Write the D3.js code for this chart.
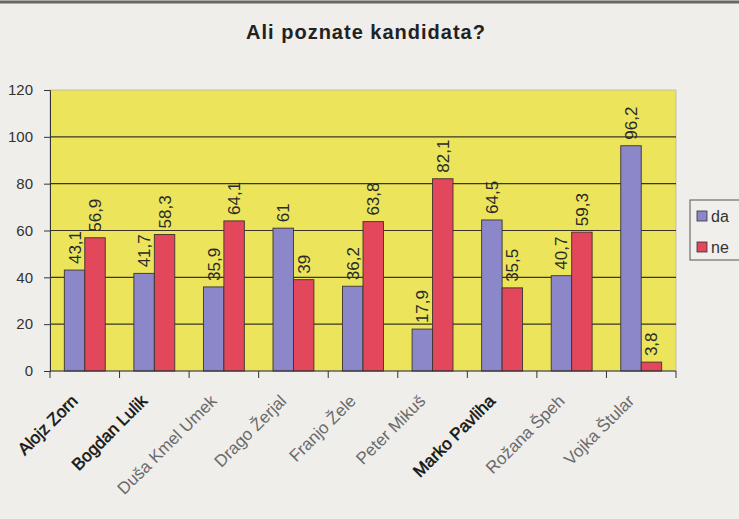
<!DOCTYPE html>
<html>
<head>
<meta charset="utf-8">
<script src="https://cdn.jsdelivr.net/npm/d3@7"></script>
<style>
  body { margin: 0; background: #efeeeb; }
  svg { display: block; font-family: "Liberation Sans", Arial, sans-serif; }
</style>
</head>
<body>
<div id="chart"></div>
<script>
var candidates = ['Alojz Zorn', 'Bogdan Lulik', 'Duša Kmel Umek', 'Drago Žerjal', 'Franjo Žele',
    'Peter Mikuš', 'Marko Pavliha', 'Rožana Špeh', 'Vojka Štular'];
var darkNames = ['Alojz Zorn', 'Bogdan Lulik', 'Marko Pavliha'];
var daValues = [43.1, 41.7, 35.9, 61, 36.2, 17.9, 64.5, 40.7, 96.2];
var neValues = [56.9, 58.3, 64.1, 39, 63.8, 82.1, 35.5, 59.3, 3.8];
var seriesNames = ['da', 'ne'];
var yTicks = [0, 20, 40, 60, 80, 100, 120];

var width = 739, height = 519;
var plotLeft = 50, plotRight = 676, plotTop = 90, plotBottom = 371;
var colors = {da: '#8c87c9', ne: '#e2475c'};

var svg = d3.select('#chart')
    .append('svg')
    .attr('width', width)
    .attr('height', height);

// rob skenirane strani
svg.append('line')
    .attr('x1', 0).attr('x2', width)
    .attr('y1', 2).attr('y2', 2)
    .attr('stroke', '#6b6660').attr('stroke-width', 3);

svg.append('text')
    .attr('x', 366).attr('y', 39)
    .attr('text-anchor', 'middle')
    .attr('font-size', 20).attr('font-weight', 'bold')
    .attr('letter-spacing', 1)
    .attr('fill', '#222')
    .text('Ali poznate kandidata?');

var xscale = d3.scaleBand()
    .domain(candidates)
    .range([plotLeft, plotRight]);

var inner = d3.scaleBand()
    .domain(seriesNames)
    .range([0, xscale.bandwidth()])
    .paddingInner(0)
    .paddingOuter(0.7);

var yscale = d3.scaleLinear()
    .domain([0, 120])
    .range([plotBottom, plotTop]);

// ozadje grafa
svg.append('rect')
    .attr('x', plotLeft).attr('y', plotTop)
    .attr('width', plotRight - plotLeft).attr('height', plotBottom - plotTop)
    .attr('fill', '#ece55c')
    .attr('stroke', '#b9b4a8').attr('stroke-width', 0.8);

// mreza
svg.selectAll('.grid')
    .data(yTicks.filter(function(d) { return d > 0 && d < 120; }))
    .enter()
    .append('line')
    .attr('x1', plotLeft).attr('x2', plotRight)
    .attr('y1', d => yscale(d)).attr('y2', d => yscale(d))
    .attr('stroke', '#3a3528').attr('stroke-width', 1.1);

var data = [];
candidates.forEach(function(c, i) {
    data.push({name: c, series: 'da', value: daValues[i]});
    data.push({name: c, series: 'ne', value: neValues[i]});
});

svg.selectAll('.bar')
    .data(data)
    .enter()
    .append('rect')
    .attr('x', d => xscale(d.name) + inner(d.series))
    .attr('y', d => yscale(d.value))
    .attr('width', inner.bandwidth())
    .attr('height', d => plotBottom - yscale(d.value))
    .attr('fill', d => colors[d.series])
    .attr('stroke', '#3a3430').attr('stroke-width', 0.9);

// oznake vrednosti
svg.selectAll('.lbl')
    .data(data)
    .enter()
    .append('text')
    .attr('transform', function(d) {
        var x = xscale(d.name) + inner(d.series) + inner.bandwidth() / 2;
        return 'translate(' + x + ',' + (yscale(d.value) - 6) + ') rotate(-90)';
    })
    .attr('dy', '0.35em')
    .attr('font-size', 17)
    .attr('fill', '#2a2a2a')
    .text(d => String(d.value).replace('.', ','));

// os y
var yaxis = d3.axisLeft(yscale).tickValues(yTicks).tickSize(6).tickPadding(11);
var gy = svg.append('g')
    .attr('transform', 'translate(' + plotLeft + ',0)')
    .call(yaxis);
gy.select('.domain').attr('stroke', '#333');
gy.selectAll('line').attr('stroke', '#333');
gy.selectAll('text').attr('font-size', 15).attr('fill', '#333')
    .attr('font-family', '"Liberation Sans", Arial, sans-serif');

// os x
svg.append('line')
    .attr('x1', plotLeft).attr('x2', plotRight)
    .attr('y1', plotBottom).attr('y2', plotBottom)
    .attr('stroke', '#333').attr('stroke-width', 1.2);

var boundaries = candidates.map(c => xscale(c)).concat([plotRight]);
svg.selectAll('.xtick')
    .data(boundaries)
    .enter()
    .append('line')
    .attr('x1', d => d).attr('x2', d => d)
    .attr('y1', plotBottom).attr('y2', plotBottom + 7)
    .attr('stroke', '#333');

svg.selectAll('.xlbl')
    .data(candidates)
    .enter()
    .append('text')
    .attr('transform', function(d) {
        var x = xscale(d) + xscale.bandwidth() / 2 - 6;
        return 'translate(' + x + ',' + (plotBottom + 31) + ') rotate(-45)';
    })
    .attr('text-anchor', 'end')
    .attr('font-size', 17)
    .attr('fill', d => darkNames.indexOf(d) >= 0 ? '#151515' : '#6a6a6a')
    .attr('stroke', d => darkNames.indexOf(d) >= 0 ? '#151515' : 'none')
    .attr('stroke-width', 0.5)
    .text(d => d);

// legenda
var legend = svg.append('g').attr('transform', 'translate(690,200)');
legend.append('rect')
    .attr('x', 0).attr('y', 0)
    .attr('width', 60).attr('height', 60)
    .attr('fill', '#f0efec')
    .attr('stroke', '#555').attr('stroke-width', 1);

legend.selectAll('.sw')
    .data(seriesNames)
    .enter()
    .append('rect')
    .attr('x', 7).attr('y', (d, i) => 11 + i * 31)
    .attr('width', 10).attr('height', 10)
    .attr('fill', d => colors[d])
    .attr('stroke', '#333').attr('stroke-width', 0.8);

legend.selectAll('.lt')
    .data(seriesNames)
    .enter()
    .append('text')
    .attr('x', 21).attr('y', (d, i) => 16 + i * 31)
    .attr('dy', '0.35em')
    .attr('font-size', 16)
    .attr('fill', '#333')
    .text(d => d);
</script>
</body>
</html>
